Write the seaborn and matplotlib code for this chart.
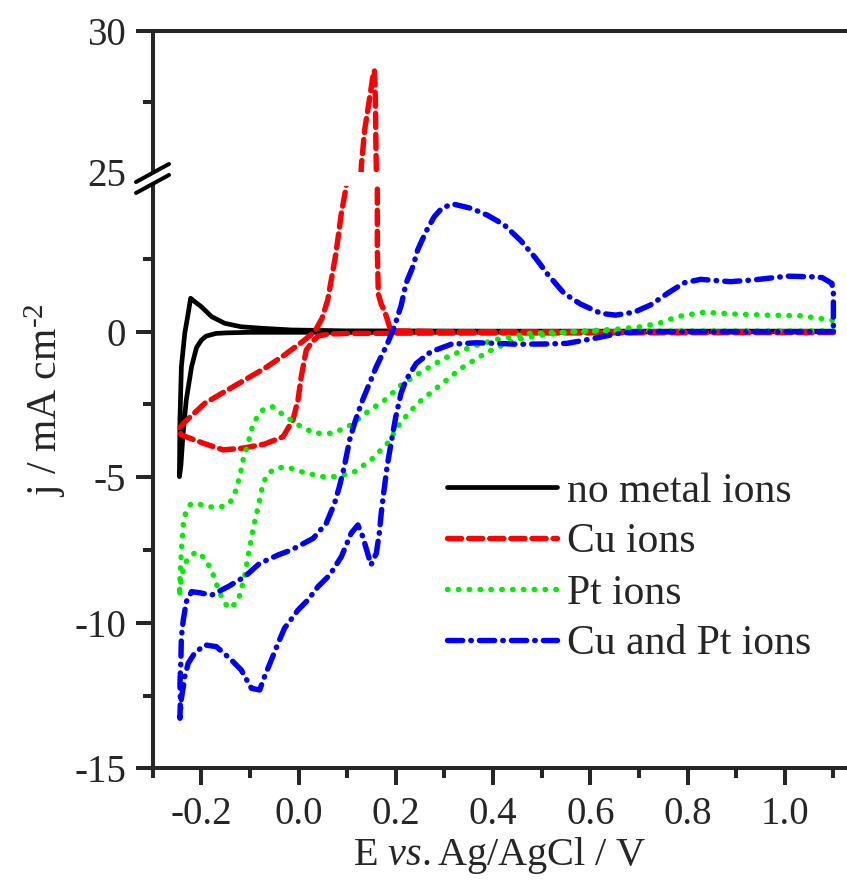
import matplotlib
matplotlib.use('Agg')
import matplotlib.pyplot as plt
from matplotlib.lines import Line2D
from matplotlib.ticker import FixedLocator, MultipleLocator, FormatStrFormatter
import seaborn as sns

sns.set_style('ticks')
plt.rcParams['font.family'] = ['Liberation Serif', 'DejaVu Serif']
plt.rcParams['mathtext.fontset'] = 'custom'
plt.rcParams['mathtext.rm'] = 'Liberation Serif'
plt.rcParams['mathtext.it'] = 'Liberation Serif:italic'
plt.rcParams['axes.unicode_minus'] = False

# no metal ions (closed loop)
E_black = [1.10, 0.60, 0.20, 0.00, -0.10, -0.15, -0.17, -0.19, -0.20, -0.21, -0.22, -0.231,
           -0.238, -0.242, -0.245, -0.244, -0.241, -0.234, -0.227, -0.222, -0.215, -0.20,
           -0.179, -0.152, -0.118, -0.077, -0.015, 0.10, 0.40, 0.80, 1.10]
j_black = [0.0, -0.01, -0.02, -0.02, -0.02, -0.04, -0.06, -0.15, -0.29, -0.55, -1.2, -2.35,
           -3.6, -4.6, -4.98, -3.03, -1.2, -0.05, 0.63, 1.15, 1.05, 0.86,
           0.52, 0.29, 0.17, 0.12, 0.06, 0.03, 0.02, 0.02, 0.02]

# Cu ions
E_cu_cath = [1.10, 0.60, 0.20, 0.10, 0.06, 0.04, 0.028, 0.0158, 0.0055, -0.0012, -0.0115,
             -0.032, -0.07, -0.114, -0.155, -0.196, -0.241, -0.247]
j_cu_cath = [-0.03, -0.04, -0.05, -0.06, -0.08, -0.15, -0.35, -0.63, -1.55, -2.35, -3.03,
             -3.61, -3.86, -4.0, -4.06, -3.83, -3.55, -3.35]
E_cu_anod = [-0.237, -0.193, -0.152, -0.111, -0.07, -0.029, 0.012, 0.033, 0.048, 0.06,
             0.077, 0.088, 0.098, 0.129, 0.136, 0.146, 0.153, 0.156, 0.158, 0.159,
             0.160, 0.162, 0.162, 0.164, 0.17, 0.177, 0.182, 0.187, 0.195, 0.30, 0.70, 1.10]
j_cu_anod = [-3.15, -2.46, -2.06, -1.66, -1.26, -0.80, -0.29, 0.0, 0.45, 1.09,
             2.7, 4.07, 4.98, 25.2, 26.5, 27.6, 28.4, 28.6, 27.6, 26.05,
             25.0, 4.5, 2.8, 1.3, 0.95, 0.7, 0.45, 0.17, 0.03, 0.0, 0.0, 0.0]

# Pt ions
E_pt_1 = [1.10, 0.80, 0.60, 0.478, 0.409, 0.355, 0.30, 0.248, 0.211, 0.177,
          0.142, 0.108, 0.071, 0.033, -0.001, -0.036, -0.053, -0.07, -0.083, -0.094,
          -0.104, -0.114, -0.121, -0.131, -0.142, -0.16, -0.186, -0.205, -0.222, -0.232,
          -0.237, -0.241, -0.244]
j_pt_1 = [0.03, 0.03, 0.02, -0.05, -0.26, -0.52, -0.91, -1.43, -1.83, -2.35,
          -2.75, -3.2, -3.49, -3.49, -3.2, -2.8, -2.58, -2.63, -2.86, -3.2,
          -3.83, -4.4, -4.98, -5.55, -5.9, -6.02, -6.02, -5.92, -5.92, -6.2,
          -6.6, -7.5, -8.5]
E_pt_2 = [-0.245, -0.241, -0.234, -0.224, -0.21, -0.193, -0.179, -0.162, -0.145, -0.128,
          -0.121, -0.111, -0.104, -0.094, -0.083, -0.073, -0.063, -0.046, -0.025, 0.006,
          0.047, 0.081, 0.115, 0.149, 0.183, 0.211, 0.245, 0.279, 0.30, 0.334,
          0.389, 0.444, 0.498, 0.567, 0.656, 0.704, 0.745, 0.779, 0.834, 0.895,
          0.96, 1.032, 1.097, 1.10]
j_pt_2 = [-9.1, -8.42, -7.96, -7.73, -7.56, -7.78, -8.19, -8.99, -9.5, -9.33,
          -9.05, -8.42, -7.73, -6.81, -6.01, -5.21, -4.87, -4.69, -4.64, -4.81,
          -4.98, -4.98, -4.81, -4.41, -3.83, -3.09, -2.46, -2.0, -1.72, -1.26,
          -0.69, -0.28, -0.12, 0.0, 0.09, 0.17, 0.31, 0.52, 0.67, 0.61,
          0.57, 0.55, 0.4, 0.3]

# Cu and Pt ions
E_cupt_1 = [1.10, 0.90, 0.70, 0.66, 0.608, 0.552, 0.512, 0.45, 0.409, 0.365,
            0.314, 0.272, 0.242, 0.221, 0.211, 0.20, 0.189, 0.182, 0.175, 0.17,
            0.166, 0.16, 0.149, 0.142, 0.132, 0.122, 0.108, 0.088, 0.064, 0.04,
            0.019, -0.001, -0.029, -0.042, -0.056, -0.07, -0.08, -0.097, -0.118, -0.138,
            -0.169, -0.193, -0.214, -0.227, -0.234, -0.237, -0.241, -0.244]
j_cupt_1 = [0.0, 0.0, 0.0, -0.05, -0.23, -0.4, -0.42, -0.43, -0.4, -0.38,
            -0.43, -0.69, -1.09, -1.66, -2.1, -2.92, -3.95, -4.64, -5.55, -6.24,
            -6.93, -7.61, -8.01, -7.61, -7.04, -6.64, -6.93, -7.73, -8.36, -8.76,
            -9.22, -9.56, -10.19, -10.7, -11.28, -11.85, -12.31, -12.25, -11.62, -11.28,
            -10.82, -10.76, -11.05, -11.39, -11.85, -12.2, -12.6, -13.28]
E_cupt_2 = [-0.243, -0.244, -0.242, -0.241, -0.237, -0.231, -0.22, -0.203, -0.179, -0.145,
            -0.111, -0.08, -0.042, -0.015, 0.03, 0.057, 0.074, 0.084, 0.094, 0.105,
            0.115, 0.129, 0.16, 0.183, 0.197, 0.211, 0.221, 0.235, 0.245, 0.262,
            0.279, 0.295, 0.317, 0.355, 0.389, 0.423, 0.457, 0.488, 0.512, 0.546,
            0.58, 0.622, 0.652, 0.69, 0.724, 0.759, 0.793, 0.827, 0.888, 0.936,
            1.005, 1.053, 1.077, 1.097, 1.10, 1.10]
j_cupt_2 = [-12.6, -12.08, -11.28, -10.48, -9.9, -9.28, -8.93, -8.97, -9.05, -8.76,
            -8.42, -7.96, -7.67, -7.5, -7.1, -6.58, -5.9, -5.32, -4.64, -3.72,
            -3.15, -2.46, -1.2, -0.4, 0.17, 0.9, 1.66, 2.23, 2.81, 3.44,
            3.95, 4.25, 4.39, 4.24, 4.0, 3.67, 3.13, 2.52, 1.98, 1.32,
            0.95, 0.63, 0.57, 0.67, 0.92, 1.32, 1.68, 1.8, 1.72, 1.78,
            1.91, 1.89, 1.86, 1.66, 1.32, 0.0]

series = [
    ('no metal ions', E_black, j_black, 'black', '-'),
    ('Cu ions', E_cu_cath + E_cu_anod, j_cu_cath + j_cu_anod, '#ff0000', (0, (2.6, 1.3))),
    ('Pt ions', E_pt_1 + E_pt_2, j_pt_1 + j_pt_2, '#00ee00', (0, (0.1, 1.9))),
    ('Cu and Pt ions', E_cupt_1 + E_cupt_2, j_cupt_1 + j_cupt_2, '#0000ff', (0, (2.8, 1.5, 0.1, 1.5))),
]

W, H = 847, 883
fig = plt.figure(figsize=(W / 100, H / 100), dpi=100)
left = 152.7 / W
width = 1 - left
ax_lo = fig.add_axes([left, 1 - 768.3 / H, width, (768.3 - 186.2) / H])
ax_hi = fig.add_axes([left, 1 - 172 / H, width, (172 - 31) / H])

for ax in (ax_lo, ax_hi):
    for name, E, j, col, ls in series:
        sns.lineplot(x=E, y=j, sort=False, estimator=None, ax=ax, color=col,
                     linestyle=ls, lw=3.9 if name != 'no metal ions' else 3.4,
                     dash_capstyle='round', solid_capstyle='round',
                     label=name if ax is ax_lo else None, legend=False)
    ax.set_xlim(-0.3, 1.128)
    ax.spines['right'].set_visible(False)
    for s in ax.spines.values():
        s.set_linewidth(2.9)
    ax.tick_params(which='major', direction='out', length=12, width=2.9,
                   labelsize=28, pad=7)
    ax.tick_params(which='minor', direction='out', length=7, width=2.9)

ax_lo.set_ylim(-15, 5)
ax_lo.spines['top'].set_visible(False)
ax_lo.yaxis.set_major_locator(FixedLocator([-15, -10, -5, 0]))
ax_lo.yaxis.set_minor_locator(FixedLocator([-12.5, -7.5, -2.5, 2.5]))
ax_lo.yaxis.set_major_formatter(FormatStrFormatter('%d'))
ax_lo.xaxis.set_major_locator(MultipleLocator(0.2))
ax_lo.xaxis.set_minor_locator(MultipleLocator(0.1))
ax_lo.xaxis.set_major_formatter(FormatStrFormatter('%.1f'))
ax_lo.tick_params(axis='x', pad=8)

ax_hi.set_ylim(25, 30)
ax_hi.spines['bottom'].set_visible(False)
ax_hi.yaxis.set_major_locator(FixedLocator([25, 30]))
ax_hi.yaxis.set_minor_locator(FixedLocator([27.5]))
ax_hi.yaxis.set_major_formatter(FormatStrFormatter('%d'))
ax_hi.xaxis.set_visible(False)
ax_hi.yaxis.get_major_ticks()[0].tick1line.set_visible(False)
ax_hi.set_ylabel('')
ax_lo.set_ylabel('')
ax_lo.set_xlabel('')

# axis break marks on the left spine
for y0 in (182, 193):
    fig.add_artist(Line2D([136 / W, 169 / W], [1 - y0 / H, 1 - (y0 - 18) / H],
                          transform=fig.transFigure, color='black', lw=2.9))

handles, labels = ax_lo.get_legend_handles_labels()
fig.legend(handles, labels, loc='upper left', bbox_to_anchor=(447 / W, 1 - 472 / H),
           frameon=False, fontsize=30, handlelength=2.64, handletextpad=0.25,
           labelspacing=0.3, borderpad=0, borderaxespad=0)

fig.text(0.5 * (left + 1), 0.02, r'E $\it{vs.}$Ag/AgCl / V', ha='center', va='baseline', fontsize=29)
fig.text(0.053, 1 - 400 / H, r'j / mA cm$^{\text{-2}}$', rotation=90, ha='center', va='center', fontsize=30)

fig.savefig('out.png', dpi=100)
